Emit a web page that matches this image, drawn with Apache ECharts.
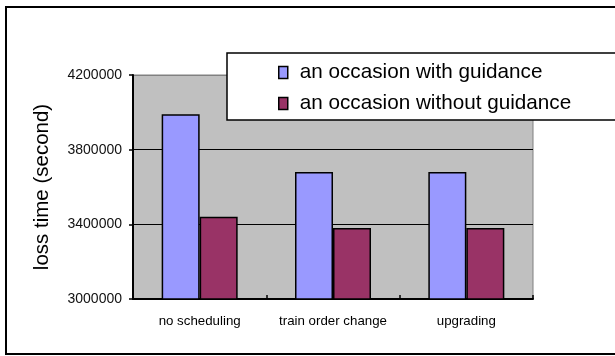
<!DOCTYPE html>
<html>
<head>
<meta charset="utf-8">
<script src="https://cdn.jsdelivr.net/npm/echarts@6/dist/echarts.min.js"></script>
<style>
  html, body { margin: 0; padding: 0; background: #fff; }
  #chart { width: 615px; height: 356px; }
</style>
</head>
<body>
<div id="chart"></div>
<script>
// Loss time per scheduling strategy, with and without guidance
const categories = ['no scheduling', 'train order change', 'upgrading'];
const withGuidance = [3990000, 3680000, 3680000];
const withoutGuidance = [3440000, 3380000, 3380000];
const seriesNames = ['an occasion with guidance', 'an occasion without guidance'];
const yAxisTitle = 'loss time (second)';

const FONT = '"Liberation Sans", Arial, sans-serif';

const chart = echarts.init(document.getElementById('chart'), null, { renderer: 'canvas' });

chart.setOption({
  backgroundColor: '#ffffff',
  animation: false,
  graphic: [
    {
      // outer frame: top, left and bottom sides; the right side lies off the canvas
      type: 'polyline',
      shape: { points: [[720, 7], [6, 7], [6, 354], [720, 354]] },
      style: { fill: 'none', stroke: '#000', lineWidth: 2 },
      z: 0
    }
  ],
  grid: {
    left: 133, right: 82, top: 75, bottom: 57,
    show: true,
    backgroundColor: '#c0c0c0',
    borderColor: '#808080',
    borderWidth: 1
  },
  legend: {
    orient: 'vertical',
    left: 227, top: 53,
    padding: [9, 200, 6, 51],
    itemGap: 10,
    itemWidth: 9,
    itemHeight: 12,
    backgroundColor: '#ffffff',
    borderColor: '#000',
    borderWidth: 1.5,
    borderRadius: 0,
    icon: 'rect',
    textStyle: { fontFamily: FONT, fontSize: 20.7, color: '#000', padding: [0, 0, 0, 7], lineHeight: 20 },
    itemStyle: { borderColor: '#000', borderWidth: 1.5 },
    z: 10
  },
  xAxis: {
    type: 'category',
    data: categories,
    axisLine: { show: true, lineStyle: { color: '#000', width: 2 } },
    axisTick: { show: true, inside: true, length: 4, lineStyle: { color: '#000', width: 1.5 } },
    axisLabel: { interval: 0, fontFamily: FONT, fontSize: 13.3, color: '#000', margin: 16 },
    splitLine: { show: false }
  },
  yAxis: {
    type: 'value',
    min: 3000000, max: 4200000, interval: 400000,
    name: yAxisTitle,
    nameLocation: 'middle',
    nameGap: 80,
    nameTextStyle: { fontFamily: FONT, fontSize: 20.5, color: '#000' },
    axisLine: { show: true, lineStyle: { color: '#000', width: 2 } },
    axisTick: { show: true, length: 4, lineStyle: { color: '#000', width: 1.5 } },
    axisLabel: { fontFamily: FONT, fontSize: 14, color: '#111', margin: 11, formatter: (v) => String(v) },
    splitLine: { show: true, lineStyle: { color: ['#000', '#000', '#000', '#808080'], width: 1.2 } }
  },
  series: [
    {
      name: seriesNames[0],
      type: 'bar',
      data: withGuidance,
      barGap: '0%',
      barCategoryGap: '43%',
      itemStyle: { color: '#9999ff', borderColor: '#000', borderWidth: 1.5 }
    },
    {
      name: seriesNames[1],
      type: 'bar',
      data: withoutGuidance,
      barGap: '0%',
      barCategoryGap: '43%',
      itemStyle: { color: '#993366', borderColor: '#000', borderWidth: 1.5 }
    }
  ]
});
</script>
</body>
</html>
